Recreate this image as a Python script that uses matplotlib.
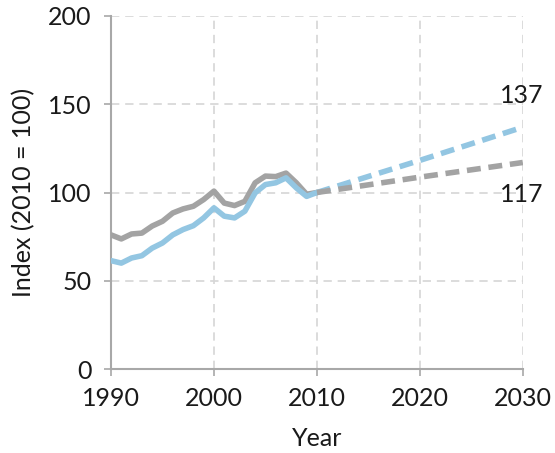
import matplotlib
matplotlib.use("Agg")
import matplotlib.pyplot as plt

plt.rcParams['font.family'] = ['Lato', 'DejaVu Sans']

# historical index values (2010 = 100)
years = list(range(1990, 2011))
grey_hist = [76, 73.7, 76.5, 77, 81, 83.7, 88.4, 90.7, 92.2, 96, 100.8,
             94, 92.6, 95, 105.5, 109.3, 109, 111, 105.5, 99, 100]
blue_hist = [61.4, 60, 62.9, 64.2, 68.5, 71.4, 76, 79, 81.2, 85.6, 91.3,
             86.6, 85.6, 89.4, 99.8, 104.5, 105.5, 108.3, 102.6, 97.8, 100]

# projections
proj_years = [2010, 2020, 2030]
grey_proj = [100, 108.7, 117]
blue_proj = [100, 118.2, 137]

blue = '#93c6e2'
grey = '#a3a3a3'
axis_col = '#a8a8a8'
txt = '#1a1a1a'
fs = 18

fig = plt.figure(figsize=(5.55, 4.53), dpi=100)
ax = fig.add_axes([0.2, 0.1854, 0.742, 0.7793])

ax.plot(years, grey_hist, color=grey, lw=4, solid_joinstyle='round',
        solid_capstyle='round', zorder=3)
ax.plot(years, blue_hist, color=blue, lw=4, solid_joinstyle='round',
        solid_capstyle='round', zorder=3)
ax.plot(proj_years, blue_proj, color=blue, lw=4, dashes=(2.5, 1.4),
        zorder=3)
ax.plot(proj_years, grey_proj, color=grey, lw=4, dashes=(2.5, 1.4),
        zorder=3)

ax.text(2029.9, 155, str(int(blue_proj[-1])), ha='center',
        va='center', fontsize=fs, color=txt)
ax.text(2029.9, 99, str(int(grey_proj[-1])), ha='center',
        va='center', fontsize=fs, color=txt)

ax.set_xlim(1990, 2030)
ax.set_ylim(0, 200)
ax.set_xticks([1990, 2000, 2010, 2020, 2030])
ax.set_yticks([0, 50, 100, 150, 200])

ax.grid(True, color='#d6d6d6', lw=1.2, dashes=(5, 3.5))
ax.set_axisbelow(True)
for s in ['top', 'right']:
    ax.spines[s].set_visible(False)
for s in ['left', 'bottom']:
    ax.spines[s].set_color(axis_col)
    ax.spines[s].set_linewidth(1.5)
ax.tick_params(colors=axis_col, labelcolor=txt, labelsize=fs,
               length=5, width=1.2)
ax.tick_params(axis='y', pad=9)
ax.tick_params(axis='x', pad=8)

ax.set_xlabel('Year', fontsize=fs, color=txt, labelpad=12)
ax.set_ylabel('Index (2010 = 100)', fontsize=fs, color=txt, labelpad=9)

fig.savefig('out.png', dpi=100)
